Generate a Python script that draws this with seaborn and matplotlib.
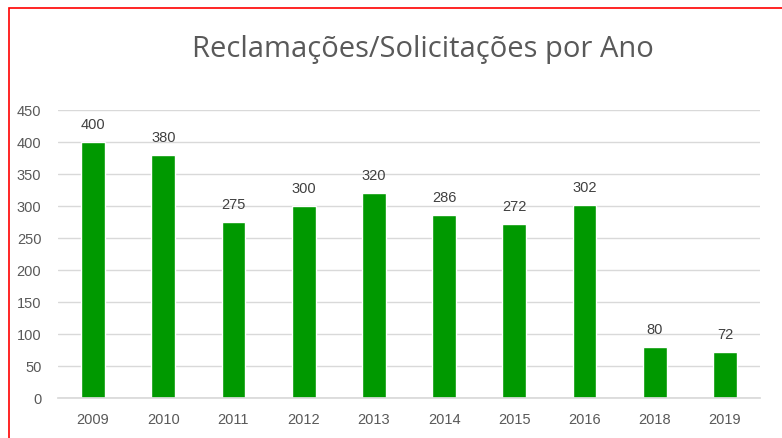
import matplotlib
matplotlib.use("Agg")
import matplotlib.pyplot as plt
import seaborn as sns
import pandas as pd
from matplotlib.patches import Rectangle

# data
anos = ["2009", "2010", "2011", "2012", "2013", "2014", "2015", "2016", "2018", "2019"]
totais = [400, 380, 275, 300, 320, 286, 272, 302, 80, 72]

df = pd.DataFrame({"ano": anos, "total": totais})

sns.set_theme(style="white")
plt.rcParams["font.family"] = ["Liberation Sans", "DejaVu Sans"]

fig = plt.figure(figsize=(7.82, 4.39), dpi=100)
ax = fig.add_axes([58 / 782, 1 - 399 / 439, 702 / 782, 288 / 439])

sns.barplot(data=df, x="ano", y="total", color="#009900", saturation=1,
            width=0.34, ax=ax)

ax.set_ylim(0, 450)
ax.set_yticks(range(0, 451, 50))
ax.yaxis.grid(True, color="#d9d9d9", linewidth=1)
ax.set_axisbelow(True)
ax.set_xlabel("")
ax.set_ylabel("")
for s in ["top", "right", "left"]:
    ax.spines[s].set_visible(False)
ax.spines["bottom"].set_color("#d9d9d9")
ax.tick_params(axis="both", length=0, colors="#595959", labelsize=10.5)
ax.tick_params(axis="y", pad=12)
ax.tick_params(axis="x", pad=10)

for c in ax.containers:
    ax.bar_label(c, padding=8, color="#404040", fontsize=10.5)

fig.text(423 / 782, 1 - 50 / 439, "Reclamações/Solicitações por Ano",
         ha="center", va="center", fontsize=21, color="#595959",
         family=["Open Sans", "DejaVu Sans"])

# red frame (cropped on the right and bottom)
fig.patches.append(Rectangle((9 / 782, -0.1), 1.2, 1 - 9 / 439 + 0.1,
                             transform=fig.transFigure, fill=False,
                             edgecolor="red", linewidth=1.2))

fig.savefig("out.png", dpi=100)
